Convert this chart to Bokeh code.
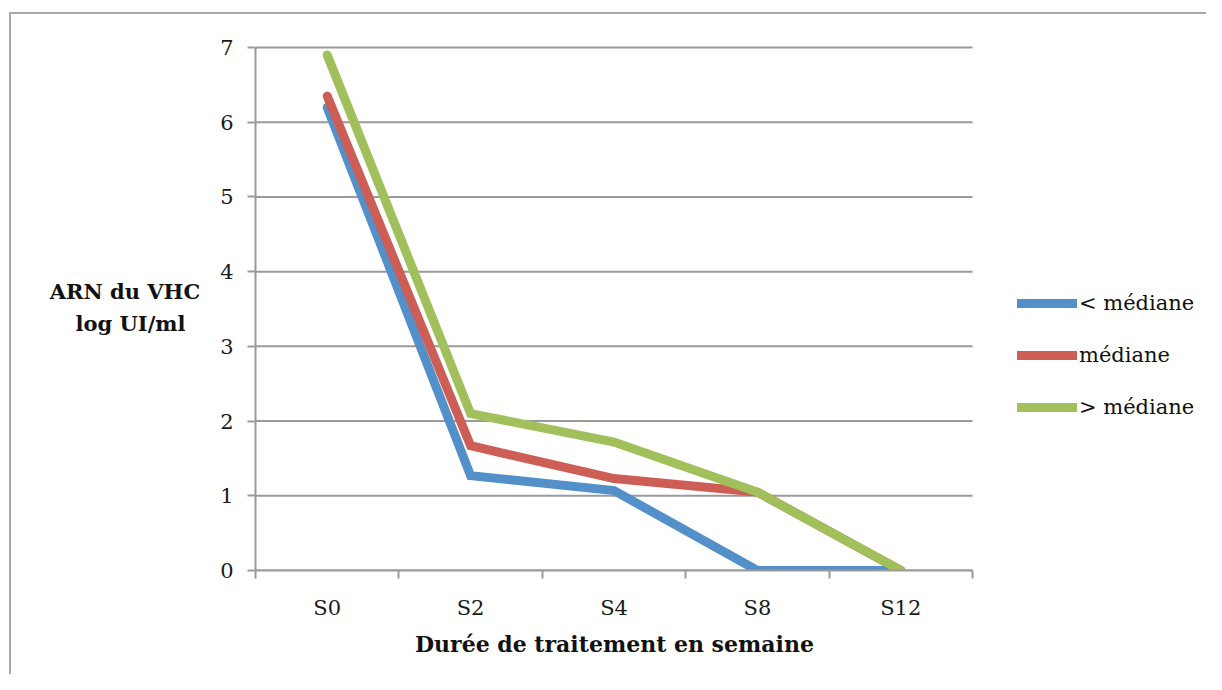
from bokeh.plotting import figure
from bokeh.models import Range1d, FixedTicker, Legend, LegendItem, Title
from bokeh.embed import file_html
from bokeh.resources import INLINE

# ---- data ----
categories = ["S0", "S2", "S4", "S8", "S12"]
below_median = [6.2, 1.27, 1.07, 0.0, 0.0]
median = [6.35, 1.67, 1.23, 1.05, 0.0]
above_median = [6.9, 2.1, 1.72, 1.05, 0.0]
series_names = ["< médiane", "médiane", "> médiane"]
series_colors = ["#5390C9", "#CD5E55", "#A1C05B"]
y_ticks = [0, 1, 2, 3, 4, 5, 6, 7]
x_title = "Durée de traitement en semaine"
y_title_lines = ["ARN du VHC", "log UI/ml"]

FONT = "DejaVu Serif"
GRID = "#9a9a9a"
EDGE = "#a8a8a8"

# layout (pixels)
FIG_W, FIG_H = 1206, 674
LEFT, TOP, RIGHT, BOTTOM = 255, 44, 0, 104
FRAME_W = FIG_W - LEFT - RIGHT
FRAME_H = FIG_H - TOP - BOTTOM
PLOT_W = 717   # width of the category area; the rest of the frame holds the legend
PLOT_H = 523   # height of the 0..7 value area
TOP_PAD = FRAME_H - PLOT_H

n = len(categories)
x = [i + 0.5 for i in range(n)]
x_end = n * FRAME_W / PLOT_W
y_end = y_ticks[-1] + TOP_PAD * (y_ticks[-1] - y_ticks[0]) / PLOT_H

page_border = (f"linear-gradient({EDGE},{EDGE}) 9px 12px / 2px 100% no-repeat, "
               f"linear-gradient({EDGE},{EDGE}) 9px 12px / 100% 2px no-repeat, white")

p = figure(frame_width=FRAME_W, frame_height=FRAME_H, output_backend="svg", toolbar_location=None,
           x_range=Range1d(0, x_end), y_range=Range1d(y_ticks[0], y_end),
           min_border_left=LEFT, min_border_right=RIGHT, min_border_top=TOP, min_border_bottom=BOTTOM,
           styles={"background": page_border})
p.outline_line_color = None
p.background_fill_color = None
p.border_fill_color = None
p.xgrid.grid_line_color = None
p.ygrid.grid_line_color = None

# horizontal gridlines limited to the category area
p.segment(x0=[0] * len(y_ticks), x1=[n] * len(y_ticks), y0=y_ticks, y1=y_ticks,
          line_color=GRID, line_width=2)

renderers = []
for vals, color in zip([below_median, median, above_median], series_colors):
    r = p.line(x, vals, line_color=color, line_width=9, line_cap="round", line_join="miter")
    renderers.append(r)

# x axis
xa = p.xaxis[0]
xa.bounds = (0, n)
xa.ticker = FixedTicker(ticks=x, minor_ticks=list(range(n + 1)))
xa.major_label_overrides = {xi: c for xi, c in zip(x, categories)}
xa.major_tick_line_color = None
xa.major_tick_out = 0
xa.major_tick_in = 0
xa.minor_tick_line_color = GRID
xa.minor_tick_line_width = 2
xa.minor_tick_out = 8
xa.minor_tick_in = 0
xa.axis_line_color = GRID
xa.axis_line_width = 2
xa.major_label_standoff = 17
xa.major_label_text_font = FONT
xa.major_label_text_font_size = "21px"
xa.major_label_text_color = "#1a1a1a"

# x title centred under the category area
title_w_est = 398
xt = Title(text=x_title, align="left", offset=(PLOT_W - title_w_est) / 2, standoff=12,
           text_font=FONT, text_font_style="bold", text_font_size="22px", text_color="#111111")
p.add_layout(xt, "below")

# y axis
ya = p.yaxis[0]
ya.bounds = (y_ticks[0], y_ticks[-1])
ya.ticker = FixedTicker(ticks=y_ticks)
ya.major_tick_line_color = GRID
ya.major_tick_line_width = 2
ya.major_tick_out = 8
ya.major_tick_in = 0
ya.minor_tick_line_color = None
ya.axis_line_color = GRID
ya.axis_line_width = 2
ya.major_label_standoff = 14
ya.major_label_text_font = FONT
ya.major_label_text_font_size = "21px"
ya.major_label_text_color = "#1a1a1a"
# second line padded with no-break spaces so the two lines look centred
ya.axis_label = y_title_lines[0] + "\n" + y_title_lines[1] + "\u00a0" * 2
ya.axis_label_orientation = "horizontal"
ya.axis_label_text_font = FONT
ya.axis_label_text_font_style = "bold"
ya.axis_label_text_font_size = "21px"
ya.axis_label_text_color = "#111111"
ya.axis_label_text_line_height = 1.3
ya.axis_label_standoff = 17

legend = Legend(items=[LegendItem(label=nm, renderers=[r]) for nm, r in zip(series_names, renderers)],
                location=(762, 150), orientation="vertical",
                glyph_width=60, glyph_height=26, label_height=26, spacing=26,
                label_standoff=2, padding=0, margin=0,
                border_line_color=None, background_fill_alpha=0,
                label_text_font=FONT, label_text_font_size="21px", label_text_color="#111111")
p.add_layout(legend, "center")

open("out.html", "w").write(file_html(p, INLINE))
